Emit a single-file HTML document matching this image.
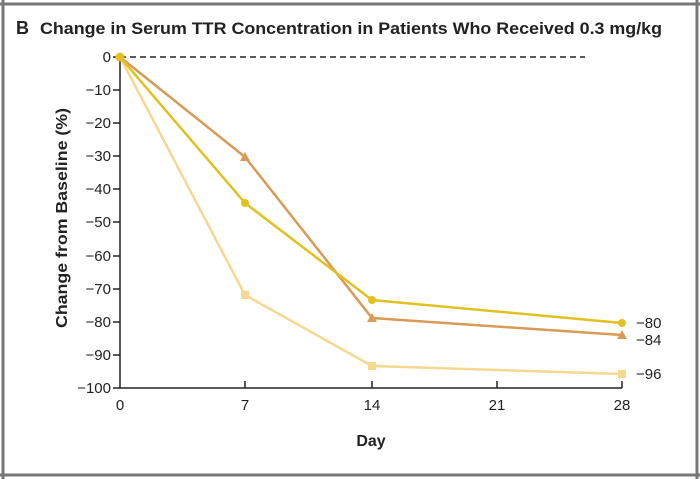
<!DOCTYPE html>
<html><head><meta charset="utf-8"><style>
body{margin:0;background:#fff;}
svg{display:block;font-family:"Liberation Sans",sans-serif;}
</style></head><body>
<svg width="700" height="479" viewBox="0 0 700 479">
<rect x="0" y="0" width="700" height="479" fill="#fff"/>
<line x1="0" y1="4" x2="700" y2="4" stroke="#777" stroke-width="3"/>
<line x1="3" y1="0" x2="3" y2="479" stroke="#777" stroke-width="3"/>
<line x1="697" y1="0" x2="697" y2="479" stroke="#777" stroke-width="3"/>
<line x1="0" y1="475" x2="700" y2="475" stroke="#777" stroke-width="3"/>
<text x="16" y="34" font-size="18" font-weight="bold" fill="#222">B</text>
<text x="40" y="34" font-size="17" font-weight="bold" fill="#222" textLength="622" lengthAdjust="spacingAndGlyphs">Change in Serum TTR Concentration in Patients Who Received 0.3 mg/kg</text>
<line x1="120" y1="57" x2="585" y2="57" stroke="#222" stroke-width="1.5" stroke-dasharray="6,4"/>
<line x1="120" y1="57" x2="120" y2="388" stroke="#222" stroke-width="1.5"/>
<line x1="120" y1="388" x2="622" y2="388" stroke="#222" stroke-width="1.5"/>
<g stroke="#222" stroke-width="1.5">
<line x1="113" y1="57" x2="120" y2="57"/><line x1="113" y1="90" x2="120" y2="90"/><line x1="113" y1="123" x2="120" y2="123"/><line x1="113" y1="156" x2="120" y2="156"/><line x1="113" y1="189" x2="120" y2="189"/><line x1="113" y1="222" x2="120" y2="222"/><line x1="113" y1="256" x2="120" y2="256"/><line x1="113" y1="289" x2="120" y2="289"/><line x1="113" y1="322" x2="120" y2="322"/><line x1="113" y1="355" x2="120" y2="355"/><line x1="113" y1="388" x2="120" y2="388"/>
<line x1="245" y1="381" x2="245" y2="388"/><line x1="372" y1="381" x2="372" y2="388"/><line x1="497" y1="381" x2="497" y2="388"/><line x1="622" y1="381" x2="622" y2="388"/>
</g>
<g font-size="15" fill="#222" text-anchor="end">
<text x="111" y="62">0</text><text x="111" y="95">−10</text><text x="111" y="128">−20</text><text x="111" y="161">−30</text><text x="111" y="194">−40</text><text x="111" y="227">−50</text><text x="111" y="261">−60</text><text x="111" y="294">−70</text><text x="111" y="327">−80</text><text x="111" y="360">−90</text><text x="111" y="393">−100</text>
</g>
<g font-size="15" fill="#222" text-anchor="middle">
<text x="120" y="410">0</text><text x="245" y="410">7</text><text x="372" y="410">14</text><text x="497" y="410">21</text><text x="622" y="410">28</text>
</g>
<text x="371" y="446" font-size="16" font-weight="bold" fill="#222" text-anchor="middle">Day</text>
<text transform="translate(67,218) rotate(-90)" font-size="16" font-weight="bold" fill="#222" text-anchor="middle" textLength="220" lengthAdjust="spacingAndGlyphs">Change from Baseline (%)</text>
<polyline points="120,57 245,295 372,366 622,374" fill="none" stroke="#f5d890" stroke-width="2.5"/>
<polyline points="120,57 245,157 372,318 622,335" fill="none" stroke="#d99a55" stroke-width="2.5"/>
<polyline points="120,57 245,203 372,300 622,323" fill="none" stroke="#e2c020" stroke-width="2.5"/>
<g fill="#f5d890"><rect x="241" y="291" width="8" height="8"/><rect x="368" y="362" width="8" height="8"/><rect x="618" y="370" width="8" height="8"/></g>
<g fill="#d99a55"><polygon points="245,152 250,161 240,161"/><polygon points="372,313 377,322 367,322"/><polygon points="622,330 627,339 617,339"/></g>
<g fill="#e2c020"><circle cx="245" cy="203" r="4"/><circle cx="372" cy="300" r="4"/><circle cx="622" cy="323" r="4"/><circle cx="120" cy="57" r="4.5"/></g>
<g font-size="15" fill="#222">
<text x="636" y="328">−80</text><text x="636" y="345">−84</text><text x="636" y="379">−96</text>
</g>
</svg>
</body></html>
